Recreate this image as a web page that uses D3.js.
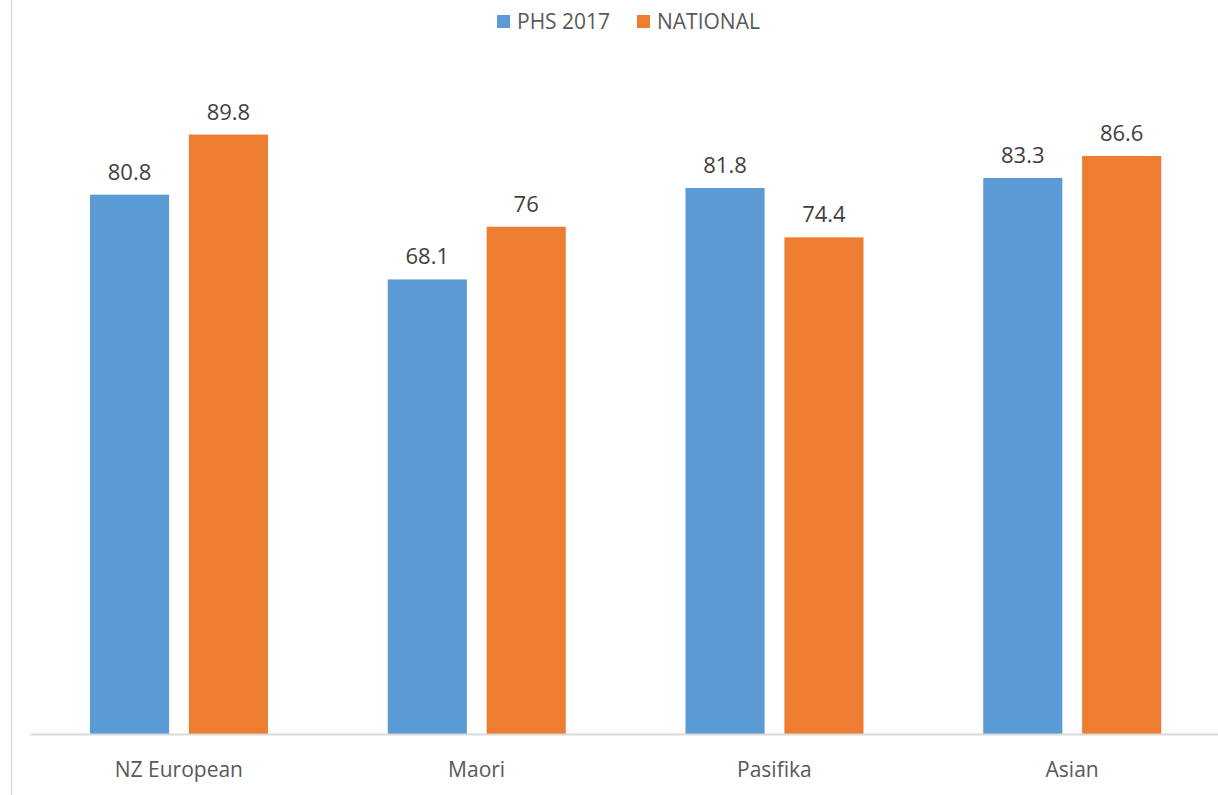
<!DOCTYPE html>
<html>
<head>
<meta charset="utf-8">
<script src="https://cdn.jsdelivr.net/npm/d3@7"></script>
<style>
  body { margin: 0; background: #fff; }
  text { font-family: "Open Sans", sans-serif; }
</style>
</head>
<body>
<svg width="1218" height="795"></svg>
<script>
const categories = ["NZ European", "Maori", "Pasifika", "Asian"];
const seriesNames = ["PHS 2017", "NATIONAL"];
const phs2017 = [80.8, 68.1, 81.8, 83.3];
const national = [89.8, 76, 74.4, 86.6];
const colors = ["#5B9BD5", "#ED7D31"];

const svg = d3.select("svg"),
      width = +svg.attr("width"),
      height = +svg.attr("height");

const baseY = 734;

const x0 = d3.scaleBand().domain(categories).range([30, 1221]).padding(0);
const x1 = d3.scaleBand().domain(seriesNames).range([60, 238]).paddingInner(0.2);
const y = d3.scaleLinear().domain([0, 100]).range([baseY, 66.5]);

// left frame line
svg.append("line")
  .attr("x1", 11.5).attr("x2", 11.5)
  .attr("y1", 0).attr("y2", height)
  .attr("stroke", "#d9d9d9").attr("stroke-width", 1.5);

const rows = categories.map((c, i) => ({cat: c, vals: [phs2017[i], national[i]]}));

const g = svg.selectAll("g.grp")
  .data(rows)
  .enter().append("g")
  .attr("class", "grp")
  .attr("transform", d => "translate(" + x0(d.cat) + ",0)");

g.selectAll("rect")
  .data(d => d.vals.map((v, i) => ({s: seriesNames[i], v: v, i: i})))
  .enter().append("rect")
  .attr("x", d => x1(d.s))
  .attr("y", d => y(d.v))
  .attr("width", x1.bandwidth())
  .attr("height", d => baseY - y(d.v))
  .attr("fill", d => colors[d.i]);

g.selectAll("text.val")
  .data(d => d.vals.map((v, i) => ({s: seriesNames[i], v: v})))
  .enter().append("text")
  .attr("class", "val")
  .attr("x", d => x1(d.s) + x1.bandwidth() / 2)
  .attr("y", d => y(d.v) - 15)
  .attr("text-anchor", "middle")
  .attr("font-size", 22)
  .attr("fill", "#404040")
  .text(d => d.v);

// baseline axis
const xAxis = d3.axisBottom(x0).tickSize(0).tickPadding(28);
const ax = svg.append("g").attr("transform", "translate(0," + baseY + ")").call(xAxis);
ax.select(".domain").attr("stroke", "#d9d9d9").attr("stroke-width", 2);
ax.selectAll("text")
  .attr("font-size", 21)
  .attr("fill", "#595959")
  .attr("font-family", "'Open Sans', sans-serif");

// legend
const legendX = [497, 637];
const lg = svg.selectAll("g.leg")
  .data(seriesNames)
  .enter().append("g")
  .attr("class", "leg")
  .attr("transform", (d, i) => "translate(" + legendX[i] + ",0)");
lg.append("rect")
  .attr("x", 0).attr("y", 15)
  .attr("width", 13).attr("height", 13)
  .attr("fill", (d, i) => colors[i]);
lg.append("text")
  .attr("x", 20).attr("y", 29)
  .attr("font-size", 21)
  .attr("fill", "#595959")
  .text(d => d);
</script>
</body>
</html>
